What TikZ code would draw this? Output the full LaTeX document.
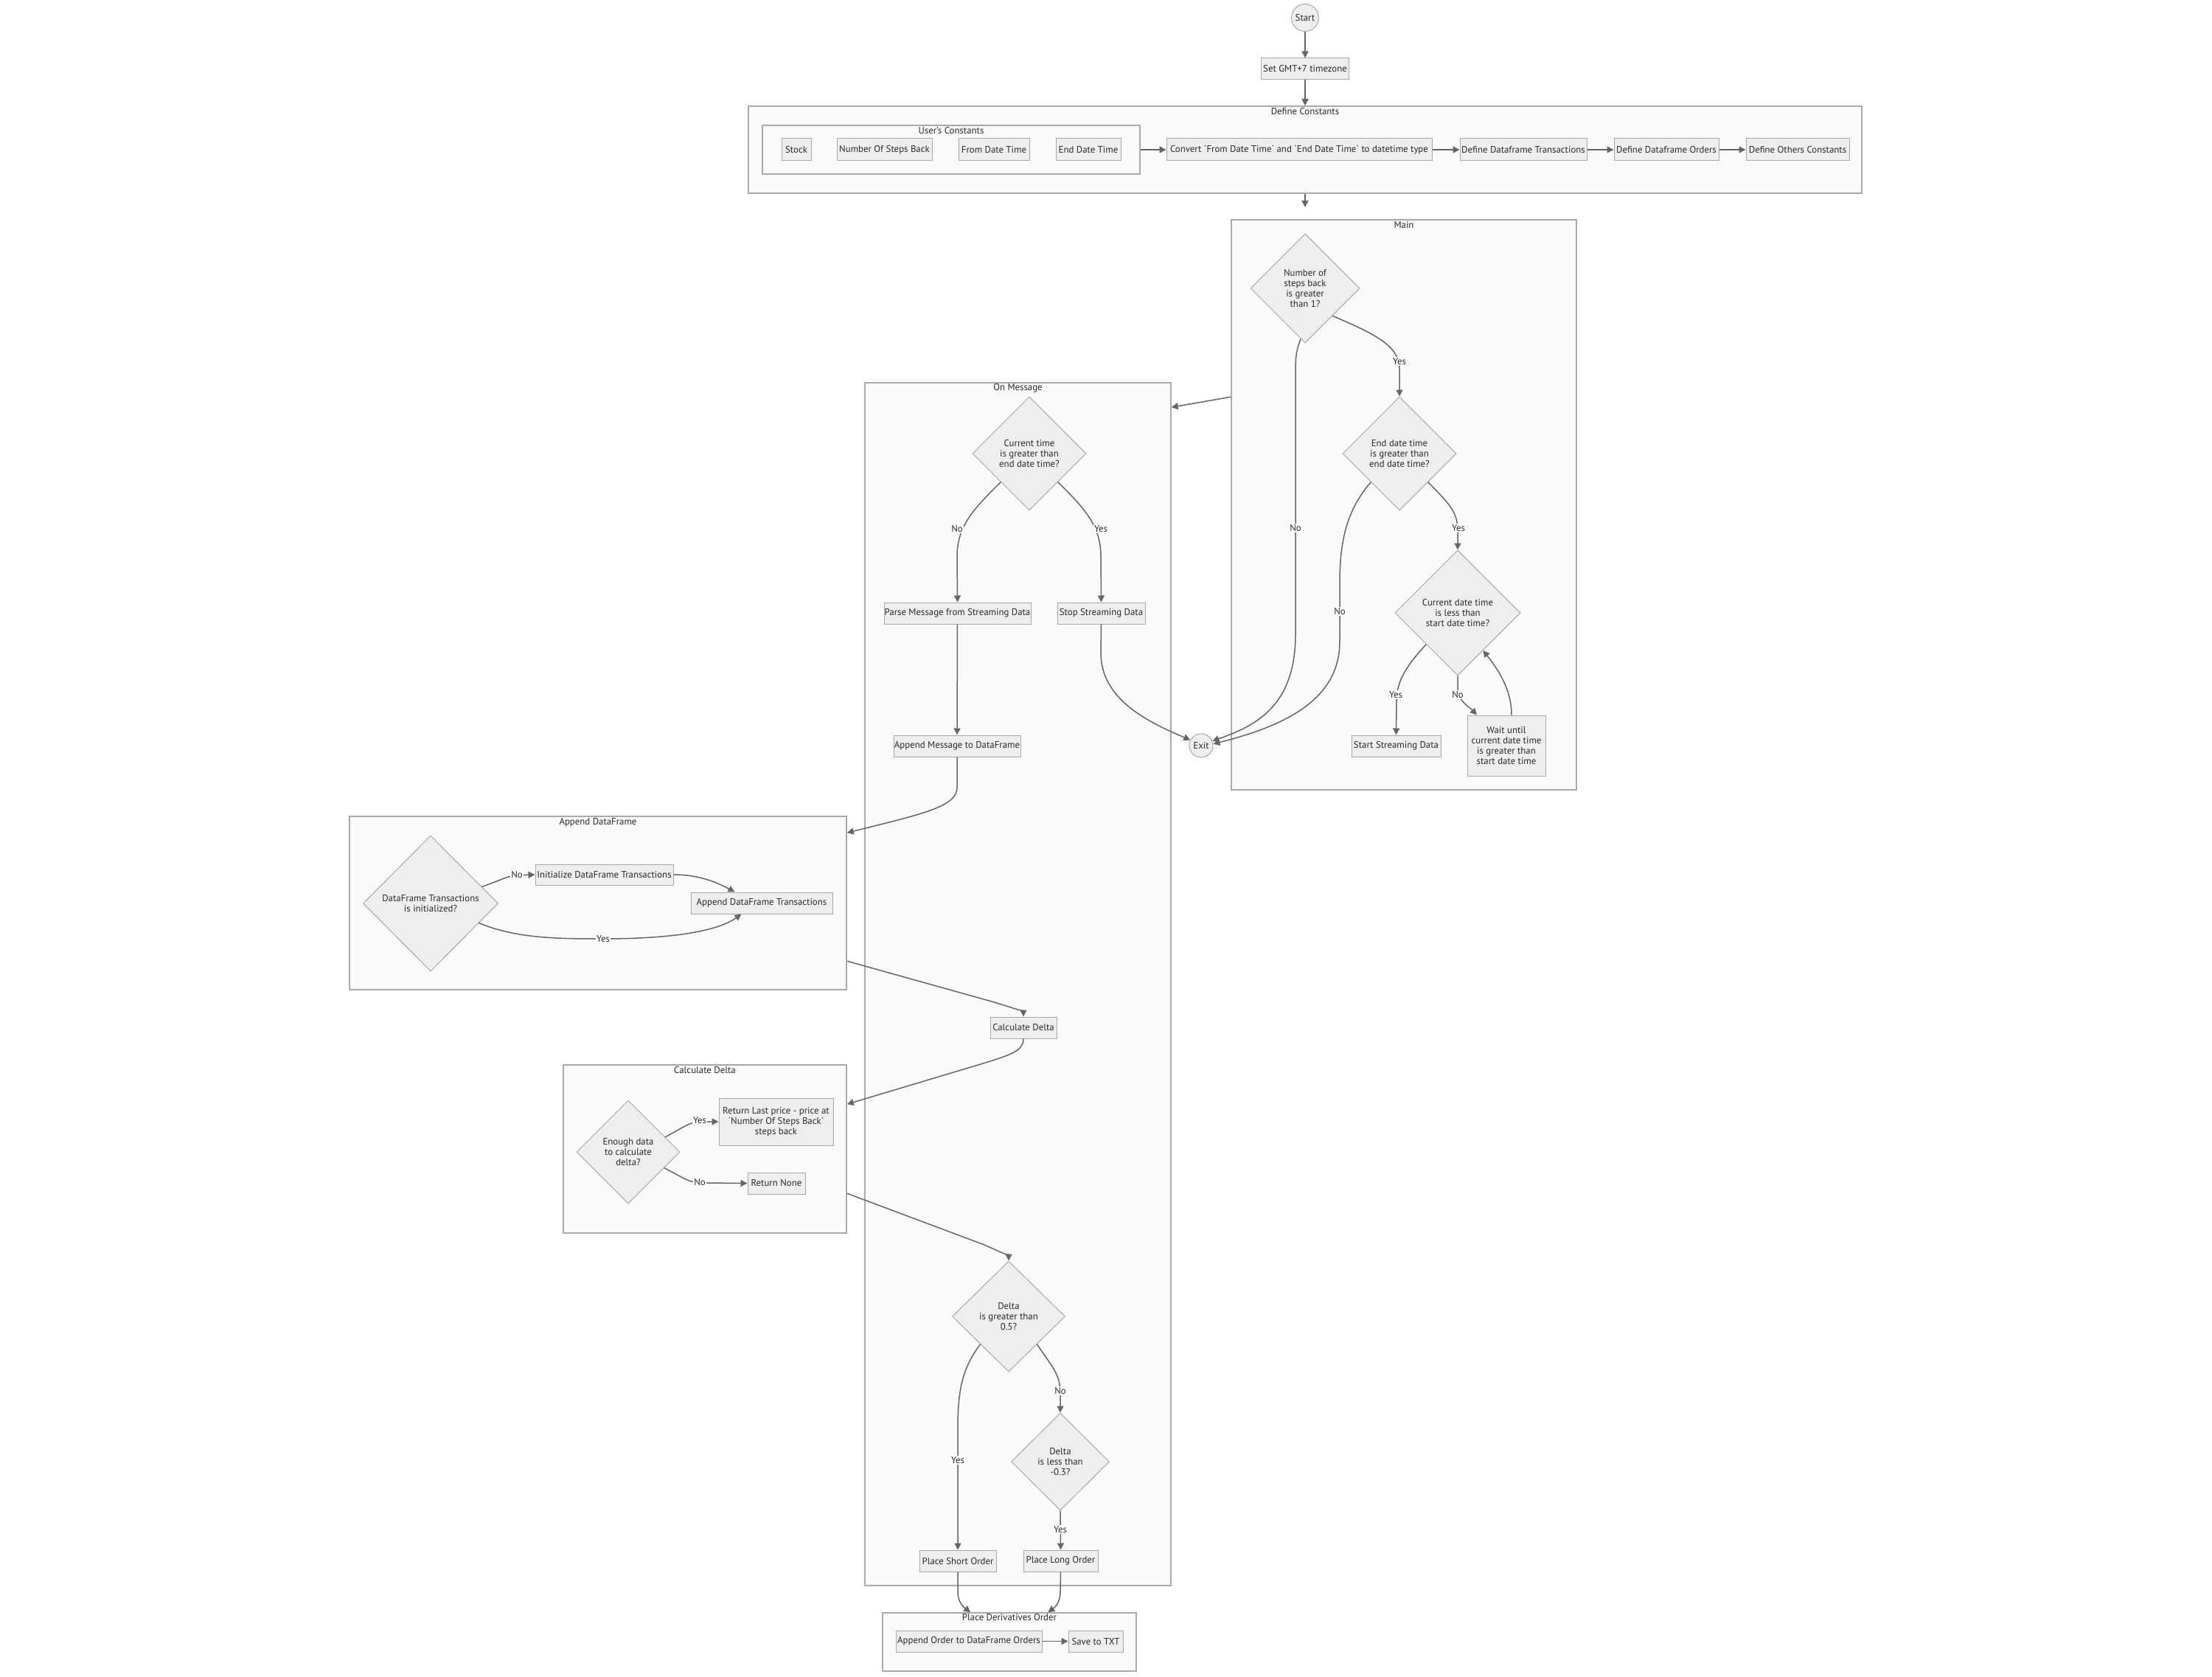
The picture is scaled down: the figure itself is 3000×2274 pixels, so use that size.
\documentclass[tikz,border=0pt]{standalone}
\usepackage{fontspec}
\setmainfont{PT Sans}
\usetikzlibrary{shapes.geometric,arrows.meta,calc}
\definecolor{nodefill}{HTML}{EEEEEE}
\definecolor{nodeline}{HTML}{A8A8A8}
\definecolor{groupfill}{HTML}{FAFAFA}
\definecolor{groupline}{HTML}{AAAAAA}
\definecolor{edgeline}{HTML}{666666}
\definecolor{txt}{HTML}{2A2A2A}
\newcommand\bq{\textasciigrave}

\begin{document}
\begin{tikzpicture}[x=0.02cm,y=-0.02cm,
  every node/.style={font=\fontsize{7.3}{8.1}\selectfont, text=txt},
  sz/.style 2 args={minimum width=#1*0.02cm, minimum height=#2*0.02cm},
  box/.style={rectangle, draw=nodeline, fill=nodefill, line width=0.02cm, inner sep=0pt, align=center},
  dia/.style={diamond, draw=nodeline, fill=nodefill, line width=0.02cm, inner sep=0pt, align=center},
  term/.style={circle, draw=nodeline, fill=nodefill, line width=0.02cm, inner sep=0pt},
  group/.style={rectangle, draw=groupline, fill=groupfill, line width=0.03cm, inner sep=0pt},
  gtitle/.style={inner sep=0pt, anchor=center},
  edge/.style={draw=edgeline, line width=0.03cm, -{Triangle[length=0.18cm,width=0.18cm]}},
  lbl/.style={fill=white, inner sep=0.6pt},
]
% canvas
\fill[white] (0,0) rectangle (3000,2274);
\useasboundingbox (0,0) rectangle (3000,2274);

% ---------- subgraph frames ----------
\node[group, sz={1510}{118}] (dc) at (1770,203) {};
\node[gtitle] at ($(dc.north)+(0,8)$) {Define Constants};
\node[group, sz={512}{66}] (uc) at (1290,203) {};
\node[gtitle] at ($(uc.north)+(0,8)$) {User's Constants};
\node[group, sz={468}{773}] (main) at (1904,684.5) {};
\node[gtitle] at ($(main.north)+(0,8)$) {Main};
\node[group, sz={415}{1631}] (onmsg) at (1380.5,1334.5) {};
\node[gtitle] at ($(onmsg.north)+(0,8)$) {On Message};
\node[group, sz={674}{235}] (adf) at (811,1224.5) {};
\node[gtitle] at ($(adf.north)+(0,9)$) {Append DataFrame};
\node[group, sz={384}{228}] (cd) at (956,1558) {};
\node[gtitle] at ($(cd.north)+(0,8)$) {Calculate Delta};
\node[group, sz={344}{79}] (pd) at (1369,2226.5) {};
\node[gtitle] at ($(pd.north)+(0,7)$) {Place Derivatives Order};

% ---------- top ----------
\node[term, minimum size=37*0.02cm] (start) at (1770,24) {Start};
\node[box, sz={119}{29}] (gmt) at (1770,93.5) {Set GMT+7 timezone};

% ---------- Define Constants ----------
\node[box, sz={40}{30}] (stock) at (1080,203) {Stock};
\node[box, sz={129}{30}] (nsteps) at (1199.5,203) {Number Of Steps Back};
\node[box, sz={96}{30}] (fromdt) at (1348,203) {From Date Time};
\node[box, sz={88}{30}] (enddt) at (1476,203) {End Date Time};
\node[box, sz={360}{30}] (convert) at (1762,203) {Convert \bq{}From Date Time\bq{} and \bq{}End Date Time\bq{} to datetime type};
\node[box, sz={172}{30}] (dftrans) at (2066,203) {Define Dataframe Transactions};
\node[box, sz={142}{30}] (dforders) at (2260,203) {Define Dataframe Orders};
\node[box, sz={140}{30}] (others) at (2438,203) {Define Others Constants};
\coordinate (mainin) at (1770,281);

% ---------- Main ----------
\node[dia, sz={148}{148}] (d1) at (1770,391) {Number of\\steps back\\is greater\\than 1?};
\node[dia, sz={154}{154}] (d2) at (1898,615) {End date time\\is greater than\\end date time?};
\node[dia, sz={170}{170}] (d3) at (1977,831) {Current date time\\is less than\\start date time?};
\node[box, sz={121}{29}] (sstream) at (1893.5,1011.5) {Start Streaming Data};
\node[box, sz={106}{82}] (wait) at (2043,1011) {Wait until\\current date time\\is greater than\\start date time};
\node[term, minimum size=32*0.02cm] (exit) at (1629,1011) {Exit};

% ---------- On Message ----------
\node[dia, sz={154}{154}] (cur) at (1396,615) {Current time\\is greater than\\end date time?};
\node[box, sz={199}{29}] (parse) at (1298.5,831.5) {Parse Message from Streaming Data};
\node[box, sz={119}{29}] (stop) at (1493.5,831.5) {Stop Streaming Data};
\node[box, sz={172}{29}] (appmsg) at (1298,1011.5) {Append Message to DataFrame};
\node[box, sz={90}{29}] (calc) at (1388,1393.5) {Calculate Delta};
\node[dia, sz={153}{150}] (dl1) at (1368,1785) {Delta\\is greater than\\0.5?};
\node[dia, sz={133}{132}] (dl2) at (1438,1982) {Delta\\is less than\\-0.3?};
\node[box, sz={104}{29}] (short) at (1299,2116.5) {Place Short Order};
\node[box, sz={101}{29}] (long) at (1438.5,2116.5) {Place Long Order};

% ---------- Append DataFrame ----------
\node[dia, sz={183}{184}] (dfq) at (584,1225) {DataFrame Transactions\\is initialized?};
\node[box, sz={187}{28}] (dfinit) at (819.5,1186) {Initialize DataFrame Transactions};
\node[box, sz={192}{29}] (dfapp) at (1033,1224.5) {Append DataFrame Transactions};

% ---------- Calculate Delta ----------
\node[dia, sz={140}{140}] (enough) at (852,1562) {Enough data\\to calculate\\delta?};
\node[box, sz={155}{64}] (retlast) at (1052.5,1521) {Return Last price - price at\\\bq{}Number Of Steps Back\bq{}\\steps back};
\node[box, sz={78}{29}] (retnone) at (1053,1604.5) {Return None};

% ---------- Place Derivatives Order ----------
\node[box, sz={198}{29}] (apporder) at (1314,2225.5) {Append Order to DataFrame Orders};
\node[box, sz={74}{29}] (savetxt) at (1486,2225.5) {Save to TXT};

% ---------- connectors ----------
\draw[edge] (start) -- (gmt);
\draw[edge] (gmt.south) -- (gmt.south |- dc.north);
\draw[edge] (uc.east) -- (convert.west);
\draw[edge] (convert) -- (dftrans);
\draw[edge] (dftrans) -- (dforders);
\draw[edge] (dforders) -- (others);
\draw[edge] (mainin |- dc.south) -- (mainin);
\draw[edge] ($(main.north west)+(0,241)$) -- ($(onmsg.north east)+(0,34)$);

% Main
\draw[edge] (d1.south east) .. controls (1862,452) and (1898,468) .. (1898,500) -- (d2.north)
  node[lbl] at (1898,490) {Yes};
\draw[edge] (d1.-95) .. controls (1757,480) .. (1757,520) -- (1757,860)
  .. controls (1757,960) and (1700,985) .. (exit.22)
  node[lbl] at (1757,716) {No};
\draw[edge] (d2.south west) .. controls (1828,690) and (1817,730) .. (1817,790) -- (1817,870)
  .. controls (1817,950) and (1740,985) .. (exit.8)
  node[lbl] at (1817,829) {No};
\draw[edge] (d2.south east) .. controls (1960,678) and (1977,692) .. (1977,718) -- (d3.north)
  node[lbl] at (1978,716) {Yes};
\draw[edge] (d3.south west) .. controls (1910,900) and (1894,922) .. (1894,950) -- (sstream.north)
  node[lbl] at (1893,942) {Yes};
\draw[edge] (d3.south) -- (1977,935) .. controls (1979,952) and (1992,958) .. ($(wait.north)+(-40,0)$)
  node[lbl] at (1977,942) {No};
\draw[edge] ($(wait.north)+(7,0)$) .. controls (2050,935) and (2032,908) .. (d3.-56);

% On Message
\draw[edge] (cur.south west) .. controls (1318,692) and (1298,715) .. (1298,755) -- (parse.north)
  node[lbl] at (1298,717) {No};
\draw[edge] (cur.south east) .. controls (1474,692) and (1493,715) .. (1493,755) -- (stop.north)
  node[lbl] at (1493,717) {Yes};
\draw[edge] (stop.south) -- (1493,885) .. controls (1493,950) and (1560,980) .. (exit.153);
\draw[edge] (parse) -- (appmsg);
\draw[edge] (appmsg.south) -- (1298,1068) .. controls (1298,1094) and (1250,1104) .. ($(adf.north east)+(0,23)$);
\draw[edge] ($(adf.north east)+(0,197)$) -- (1345,1358) .. controls (1378,1368) and (1388,1372) .. (calc.north);
\draw[edge] (calc.south) .. controls (1388,1425) and (1372,1430) .. (1330,1443) -- ($(cd.north east)+(0,54)$);
\draw[edge] ($(cd.north east)+(0,175)$) -- (1335,1688) .. controls (1362,1700) and (1368,1703) .. (dl1.north);
\draw[edge] (dl1.south west) .. controls (1308,1852) and (1299,1878) .. (1299,1935) -- (short.north)
  node[lbl] at (1299,1980) {Yes};
\draw[edge] (dl1.south east) .. controls (1424,1850) and (1438,1862) .. (1438,1888) -- (dl2.north)
  node[lbl] at (1438,1886) {No};
\draw[edge] (dl2.south) -- (long.north)
  node[lbl] at (1438,2074) {Yes};
\draw[edge] (short.south) -- (1299,2158) .. controls (1299,2174) and (1308,2180) .. ($(pd.north west)+(120,0)$);
\draw[edge] (long.south) -- (1438,2158) .. controls (1438,2174) and (1430,2180) .. ($(pd.north west)+(225,0)$);
\draw[edge] (apporder) -- (savetxt);

% Append DataFrame
\draw[edge] (dfq.18) .. controls (678,1194) and (690,1187) .. (701,1187) -- (dfinit.west)
  node[lbl] at (701,1186) {No};
\draw[edge] (dfinit.east) .. controls (950,1186) and (975,1198) .. ($(dfapp.north west)+(60,0)$);
\draw[edge] (dfq.-22) .. controls (700,1273) and (760,1273) .. (818,1273)
  .. controls (900,1273) and (970,1265) .. ($(dfapp.south west)+(69,0)$)
  node[lbl] at (818,1273) {Yes};

% Calculate Delta
\draw[edge] (enough.22) .. controls (925,1530) and (935,1521) .. (950,1521) -- (retlast.west)
  node[lbl] at (949,1519) {Yes};
\draw[edge] (enough.-24) .. controls (925,1596) and (935,1604) .. (950,1604) -- (retnone.west)
  node[lbl] at (949,1603) {No};
\end{tikzpicture}
\end{document}
